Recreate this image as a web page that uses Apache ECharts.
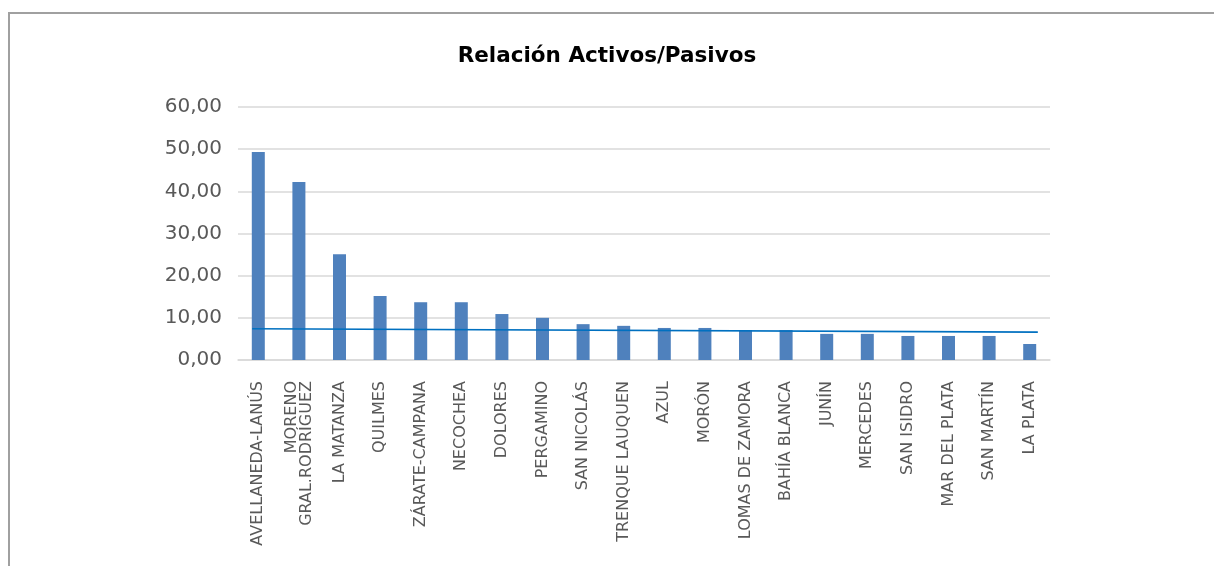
<!DOCTYPE html>
<html>
<head>
<meta charset="utf-8">
<script src="https://cdn.jsdelivr.net/npm/echarts@6/dist/echarts.min.js"></script>
<style>
html,body{margin:0;padding:0;background:#fff;overflow:hidden;width:1214px;height:566px;}
#clip{position:absolute;left:0;top:0;width:1214px;height:566px;overflow:hidden;}
#frame{position:absolute;left:8px;top:12px;width:1400px;height:700px;border-left:2px solid #a0a0a0;border-top:2px solid #a0a0a0;box-sizing:border-box;}
#chart{position:absolute;left:0;top:0;width:1214px;height:566px;}
</style>
</head>
<body>
<div id="clip"><div id="frame"></div></div>
<div id="chart"></div>
<script>
const categories = ["AVELLANEDA-LANÚS","MORENO\nGRAL.RODRÍGUEZ","LA MATANZA","QUILMES","ZÁRATE-CAMPANA","NECOCHEA","DOLORES","PERGAMINO","SAN NICOLÁS","TRENQUE LAUQUEN","AZUL","MORÓN","LOMAS DE ZAMORA","BAHÍA BLANCA","JUNÍN","MERCEDES","SAN ISIDRO","MAR DEL PLATA","SAN MARTÍN","LA PLATA"];
const ratios = [49.3,42.2,25.1,15.2,13.7,13.7,10.9,10.0,8.5,8.1,7.6,7.6,7.1,7.1,6.2,6.2,5.7,5.7,5.7,3.8];
// trend line endpoints: [category position, value]
const trendLine = [[-0.15, 7.4], [19.2, 6.6]];
const yTicks = {min:0, max:60, interval:10};

const chart = echarts.init(document.getElementById('chart'), null, {renderer:'canvas'});
chart.setOption({
  backgroundColor:'transparent',
  animation:false,
  title:{
    text:'Relación Activos/Pasivos',
    left:'center', top:40,
    textStyle:{fontFamily:'DejaVu Sans', fontWeight:'bold', fontSize:21.5, color:'#000'}
  },
  grid:{left:238, right:164, top:107, bottom:206, containLabel:false},
  xAxis:[{
    type:'category', data:categories,
    axisLine:{show:true, lineStyle:{color:'#d9d9d9', width:1.5}},
    axisTick:{show:false},
    axisLabel:{rotate:90, interval:0, margin:21, fontFamily:'DejaVu Sans', fontSize:16, color:'#595959', lineHeight:15}
  },{
    type:'value', min:-0.5, max:categories.length-0.5, show:false
  }],
  yAxis:{
    type:'value', min:yTicks.min, max:yTicks.max, interval:yTicks.interval,
    axisLine:{show:false}, axisTick:{show:false},
    axisLabel:{margin:16, fontFamily:'DejaVu Sans', fontSize:20, color:'#595959',
      formatter:v=>v.toFixed(2).replace('.',',')},
    splitLine:{lineStyle:{color:'#d9d9d9', width:1.5}}
  },
  series:[{
    type:'bar', data:ratios, barWidth:13,
    itemStyle:{color:'#4f81bd'}
  },{
    type:'line', xAxisIndex:1, data:trendLine, symbol:'none', silent:true,
    lineStyle:{color:'#0070c0', width:1.6}
  }]
});
</script>
</body>
</html>
